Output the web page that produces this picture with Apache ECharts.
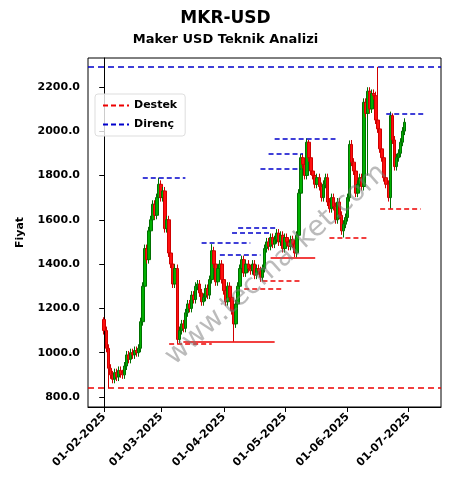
<!DOCTYPE html>
<html><head><meta charset="utf-8">
<script src="https://cdn.jsdelivr.net/npm/echarts@6/dist/echarts.min.js"></script>
<style>html,body{margin:0;padding:0;background:#fff}#c{width:451px;height:489px}</style>
</head><body><div id="c"></div>
<script>
const startDate = [2025, 1, 1]; // Feb 1 2025 (month index 1)
const closes = [1100,1020,930,900,880,910,890,920,905,900,940,990,970,1000,990,1010,1000,1020,
1140,1300,1470,1420,1550,1600,1670,1620,1700,1760,1700,1730,1560,1600,1450,1400,
1310,1380,1060,
1100,1130,1110,1180,1220,1200,1260,1240,1300,1310,1270,1230,1250,1290,1260,1330,
1460,
1400,1320,1380,1400,1330,1280,1230,1300,1250,1190,
1130,
1220,1300,1380,1420,1360,1400,1380,1370,1400,1350,1380,1370,1340,1380,
1470,1500,1480,1520,1490,1510,1540,1500,1530,1470,1520,1500,1480,1510,1490,1450,
1530,1720,1880,1850,1800,1950,
1880,1820,1800,1760,1790,1750,1700,1760,1790,1680,1650,1700,1660,1600,1680,1620,
1550,1580,1610,1700,1940,1860,1820,1720,1760,1790,1750,
2130,2080,2180,2100,2170,2160,2050,2010,1920,1880,1790,1760,1700,2070,
1960,1840,1880,1900,1950,2000,2040];
const firstOpen = 1150;
const wickIdx = [0,2,27,36,53,64,77,95,101,118,122,130,135,141,142];
const wickHigh = [1160,null,1790,null,1490,null,null,null,1960,null,1960,null,2290,null,2080];
const wickLow = [null,840,null,1040,null,1050,1320,1430,null,1520,null,1800,null,1650,null];
const supportLevels = [840];
const resistanceLevels = [2290];
// [value, startDay, endDay, solid]
const supportSegs = [[1040,32,53,0],[1050,39,84,1],[1290,69,88,0],[1325,78,97,0],[1430,82,104,1],[1520,111,130,0],[1650,136,156,0]];
const resistSegs = [[1790,19,40],[1495,48,72],[1440,57,77],[1540,63,82],[1565,66,85],[1830,77,97],[1900,81,98],[1965,84,114],[2080,139,158]];
const yTicks = [800,1000,1200,1400,1600,1800,2000,2200];
const xTickDays = [0,28,59,89,120,150]; // days from Feb 1 to each month start

function dayLabel(n){const d=new Date(startDate[0],startDate[1],startDate[2]+n);
  return String(d.getDate()).padStart(2,'0')+'-'+String(d.getMonth()+1).padStart(2,'0')+'-'+d.getFullYear();}
const candles = [];
let prev = firstOpen;
closes.forEach((c,i)=>{
  const o = prev;
  let h = Math.max(o,c)+18, l = Math.min(o,c)-18;
  const k = wickIdx.indexOf(i);
  if(k>=0){ if(wickHigh[k]!=null) h=wickHigh[k]; if(wickLow[k]!=null) l=wickLow[k]; }
  candles.push([i,o,c,l,h]);
  prev = c;
});
function seg(v,a,b,solid,color){
  return [{coord:[a,v],lineStyle:{color:color,type:solid?'solid':[5,3],width:1.6}},{coord:[b,v]}];
}
const chart = echarts.init(document.getElementById('c'));
const ff = 'DejaVu Sans';
chart.setOption({
  animation:false,
  textStyle:{fontFamily:ff},
  title:[{text:'MKR-USD',left:'center',top:5,textStyle:{fontSize:17,fontWeight:'bold',color:'#000',fontFamily:ff}},
         {text:'Maker USD Teknik Analizi',left:'center',top:28,textStyle:{fontSize:13,fontWeight:'bold',color:'#000',fontFamily:ff}}],
  grid:{left:88,right:10,top:58,bottom:82,show:true,borderColor:'#000',borderWidth:1},
  legend:{left:95,top:94,orient:'vertical',itemWidth:26,itemHeight:2,itemGap:8,
    backgroundColor:'rgba(255,255,255,0.8)',borderColor:'#ddd',borderWidth:1,padding:[6,8],borderRadius:3,
    textStyle:{fontWeight:'bold',fontSize:11,color:'#000'},
    data:[{name:'Destek',icon:'path://M0,0h5v2h-5zM8,0h5v2h-5zM16,0h5v2h-5zM24,0h2v2h-2z',itemStyle:{color:'#e00'}},
          {name:'Direnç',icon:'path://M0,0h5v2h-5zM8,0h5v2h-5zM16,0h5v2h-5zM24,0h2v2h-2z',itemStyle:{color:'#00c'}}]},
  xAxis:{type:'value',min:-8,max:166,
    splitLine:{show:false},axisLine:{lineStyle:{color:'#000'}},
    axisTick:{show:true,customValues:xTickDays,lineStyle:{color:'#000'}},
    axisLabel:{customValues:xTickDays,rotate:45,fontWeight:'bold',fontSize:11,color:'#000',formatter:v=>dayLabel(v)}},
  yAxis:{type:'value',min:755,max:2330,name:'Fiyat',nameLocation:'middle',nameGap:62,
    nameTextStyle:{fontWeight:'bold',fontSize:11,color:'#000'},
    splitLine:{show:false},axisLine:{show:true,lineStyle:{color:'#000'}},
    axisTick:{show:true,customValues:yTicks,lineStyle:{color:'#000'}},
    axisLabel:{customValues:yTicks,fontWeight:'bold',fontSize:11,color:'#000',formatter:v=>v.toFixed(1)}},
  graphic:[{type:'text',z:100,rotation:Math.PI/4.3,x:160,y:350,
    style:{text:'www.tecmarket.com',fontSize:28,fill:'rgba(120,120,120,0.5)',fontFamily:ff}}],
  series:[
    {type:'candlestick',data:candles,barWidth:3,
     itemStyle:{color:'#00b000',color0:'#ff1010',borderColor:'#007000',borderColor0:'#d00000',borderWidth:1}},
    {name:'Destek',type:'line',data:[],symbol:'none',lineStyle:{color:'#e00',type:'dashed'},itemStyle:{color:'#e00'},
     markLine:{symbol:'none',silent:true,label:{show:false},
       data:supportLevels.map(v=>({yAxis:v,lineStyle:{color:'#e00',type:[6,4],width:1.5}}))
         .concat(supportSegs.map(s=>seg(s[0],s[1],s[2],s[3],'#e00')))}},
    {name:'Direnç',type:'line',data:[],symbol:'none',lineStyle:{color:'#00c',type:'dashed'},itemStyle:{color:'#00c'},
     markLine:{symbol:'none',silent:true,label:{show:false},
       data:resistanceLevels.map(v=>({yAxis:v,lineStyle:{color:'#00c',type:[6,4],width:1.5}}))
         .concat(resistSegs.map(s=>seg(s[0],s[1],s[2],0,'#00c')))}}
  ]
});
</script></body></html>
